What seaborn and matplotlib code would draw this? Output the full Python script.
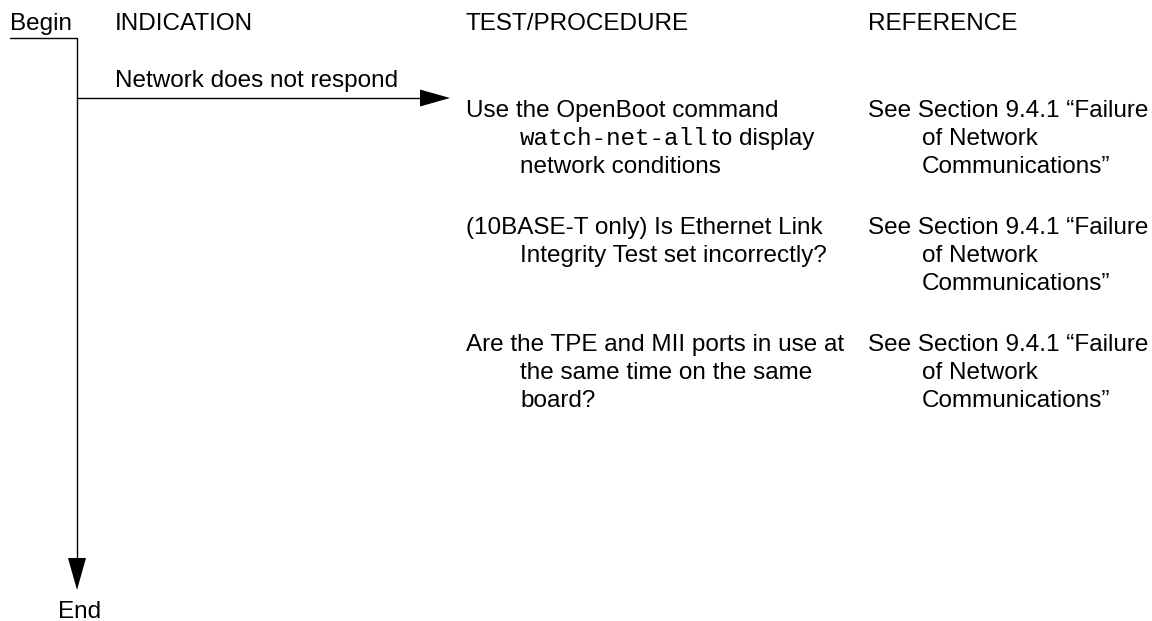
import matplotlib
matplotlib.use("Agg")
import matplotlib.pyplot as plt
import seaborn as sns

# column headers and flow labels
headers = ["INDICATION", "TEST/PROCEDURE", "REFERENCE"]
start_label = "Begin"
end_label = "End"
indication = "Network does not respond"

# test steps, one list of wrapped lines per row; `...` marks monospace
tests = [
    ["Use the OpenBoot command", "`watch-net-all` to display", "network conditions"],
    ["(10BASE-T only) Is Ethernet Link", "Integrity Test set incorrectly?"],
    ["Are the TPE and MII ports in use at", "the same time on the same", "board?"],
]
references = [
    ["See Section 9.4.1 \u201cFailure", "of Network", "Communications\u201d"],
    ["See Section 9.4.1 \u201cFailure", "of Network", "Communications\u201d"],
    ["See Section 9.4.1 \u201cFailure", "of Network", "Communications\u201d"],
]

sns.set_theme(style="white")
plt.rcParams['font.family'] = ['Liberation Sans', 'DejaVu Sans']
plt.rcParams['text.color'] = 'black'

FS = 17.5
W, H = 1152, 621
fig = plt.figure(figsize=(W / 100, H / 100), dpi=100)
ax = fig.add_axes([0, 0, 1, 1])
ax.set_xlim(0, W)
ax.set_ylim(H, 0)
ax.axis('off')
renderer = fig.canvas.get_renderer()

# layout in pixels
col_x = [115, 466, 868]
indent = 54
head_y = 30
row_y0, row_step, line_step = 117, 117, 28
flow_x = 77
arrow_y = 98


def tri(ax, tip, base_c, half):
    """filled arrow head from base centre to tip"""
    (tx, ty), (bx, by) = tip, base_c
    if tx == bx:
        xs = [bx - half, bx + half, tx]
        ys = [by, by, ty]
    else:
        xs = [bx, bx, tx]
        ys = [by - half, by + half, ty]
    ax.fill(xs, ys, color='black', lw=0)


def put_line(ax, x, y, s):
    parts = s.split('`')
    for i, p in enumerate(parts):
        if not p:
            continue
        fam = 'Liberation Mono' if i % 2 else ['Liberation Sans', 'DejaVu Sans']
        t = ax.text(x, y, p.strip() if i % 2 else p.lstrip(), family=fam,
                    fontsize=FS, va='baseline', ha='left', color='black')
        bb = t.get_window_extent(renderer).transformed(ax.transData.inverted())
        x = bb.x1 + 4


# headers
ax.text(10, head_y, start_label, fontsize=FS, va='baseline')
for x, h in zip(col_x, headers):
    ax.text(x, head_y, h, fontsize=FS, va='baseline')

# main flow line: underline of Begin then down to End
ax.plot([10, flow_x, flow_x], [38, 38, 558], color='black', lw=1)
tri(ax, (flow_x, 590), (flow_x, 558), 9)
ax.text(58, 618, end_label, fontsize=FS, va='baseline')

# indication branch
ax.plot([flow_x, 421], [arrow_y, arrow_y], color='black', lw=1)
tri(ax, (450, arrow_y), (420, arrow_y), 8.5)
ax.text(col_x[0], 87, indication, fontsize=FS, va='baseline')

# rows of tests and references
for r, (tl, rl) in enumerate(zip(tests, references)):
    y0 = row_y0 + r * row_step
    for j, s in enumerate(tl):
        put_line(ax, col_x[1] + (indent if j else 0), y0 + j * line_step, s)
    for j, s in enumerate(rl):
        put_line(ax, col_x[2] + (indent if j else 0), y0 + j * line_step, s)

fig.savefig("out.png", dpi=100, facecolor='white')
